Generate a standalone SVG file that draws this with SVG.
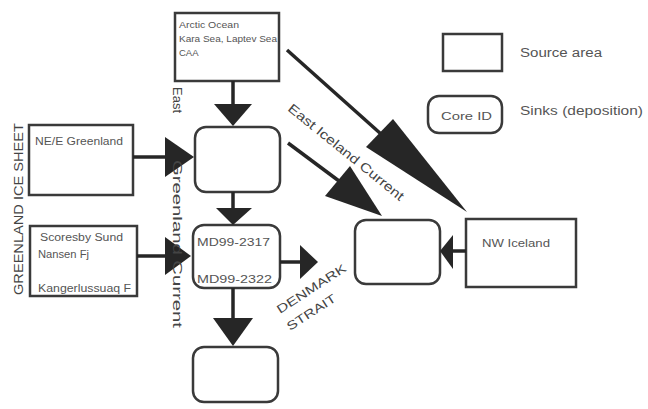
<svg xmlns="http://www.w3.org/2000/svg" width="648" height="409" viewBox="0 0 648 409">
<style>
.src{fill:#fff;stroke:#3a3a3a;stroke-width:2.5}
.snk{fill:#fff;stroke:#3a3a3a;stroke-width:2.5}
.t{font-family:"Liberation Sans",Arial,sans-serif;fill:#555}
.lbl{font-family:"Liberation Sans",Arial,sans-serif;fill:#444}
.ln{stroke:#262626;stroke-width:3.5;fill:none}
.hd{fill:#262626}
</style>
<rect width="648" height="409" fill="#fff"/>

<g id="arctic">
<rect class="src" x="175" y="13" width="104" height="68"/>
<text class="t" x="179" y="28" font-size="9.5" textLength="60" lengthAdjust="spacingAndGlyphs">Arctic Ocean</text>
<text class="t" x="179" y="42" font-size="9.5" textLength="98" lengthAdjust="spacingAndGlyphs">Kara Sea, Laptev Sea</text>
<text class="t" x="179" y="56" font-size="9.5">CAA</text>
</g>

<g id="ne-greenland">
<rect class="src" x="29" y="125" width="104" height="70"/>
<text class="t" x="35" y="145" font-size="10" textLength="88" lengthAdjust="spacingAndGlyphs">NE/E Greenland</text>
</g>

<g id="scoresby">
<rect class="src" x="30" y="226" width="107" height="70"/>
<text class="t" x="40" y="241" font-size="10" textLength="83" lengthAdjust="spacingAndGlyphs">Scoresby Sund</text>
<text class="t" x="38" y="258" font-size="10" textLength="51" lengthAdjust="spacingAndGlyphs">Nansen Fj</text>
<text class="t" x="38" y="292" font-size="10" textLength="93" lengthAdjust="spacingAndGlyphs">Kangerlussuaq F</text>
</g>

<g id="sink1">
<rect class="snk" x="195" y="127" width="85" height="65" rx="11"/>
</g>

<g id="sink2">
<rect class="snk" x="193" y="225" width="87" height="63" rx="11"/>
<text class="t" x="197" y="246" font-size="11" textLength="73" lengthAdjust="spacingAndGlyphs">MD99-2317</text>
<text class="t" x="197" y="283" font-size="11" textLength="75" lengthAdjust="spacingAndGlyphs">MD99-2322</text>
</g>

<g id="sink3">
<rect class="snk" x="193" y="347" width="85" height="55" rx="11"/>
</g>

<g id="sink4">
<rect class="snk" x="355" y="220" width="85" height="64" rx="11"/>
</g>

<g id="nw-iceland">
<rect class="src" x="466" y="219" width="110" height="68"/>
<text class="t" x="482" y="247" font-size="10" textLength="68" lengthAdjust="spacingAndGlyphs">NW Iceland</text>
</g>

<g id="legend-source">
<rect class="src" x="443" y="34" width="59" height="37"/>
<text class="t" x="520" y="57" font-size="12" textLength="82" lengthAdjust="spacingAndGlyphs">Source area</text>
</g>

<g id="legend-sink">
<rect class="snk" x="428" y="96" width="74" height="37" rx="11"/>
<text class="t" x="441" y="120" font-size="11.5" textLength="51" lengthAdjust="spacingAndGlyphs">Core ID</text>
<text class="t" x="520" y="115" font-size="12" textLength="123" lengthAdjust="spacingAndGlyphs">Sinks (deposition)</text>
</g>

<g id="connectors">
<line class="ln" x1="233" y1="81" x2="233" y2="106"/>
<polygon class="hd" points="214,104 252,104 233,126"/>
<line class="ln" x1="233" y1="192" x2="233" y2="210"/>
<polygon class="hd" points="216,208 252,208 233,225"/>
<line class="ln" x1="233" y1="288" x2="233" y2="320"/>
<polygon class="hd" points="213,318 253,318 233,346"/>
<line class="ln" x1="280" y1="262" x2="302" y2="262"/>
<polygon class="hd" points="300,245 300,279 318,262"/>
<line class="ln" x1="133" y1="157" x2="167" y2="157"/>
<polygon class="hd" points="165,137 165,177 194,157"/>
<line class="ln" x1="137" y1="256" x2="167" y2="256"/>
<polygon class="hd" points="165,237 165,275 191,256"/>
<line class="ln" x1="466" y1="251" x2="450" y2="251"/>
<polygon class="hd" points="453,235 453,269 440,251"/>
<line class="ln" x1="287" y1="50" x2="381" y2="134" stroke-width="3"/>
<polygon class="hd" points="393,119 366,147 467,212"/>
<line class="ln" x1="288" y1="143" x2="339" y2="181" stroke-width="3"/>
<polygon class="hd" points="350,166 325,196 382,216"/>
</g>

<g id="labels">
<text class="lbl" font-size="12" transform="translate(23,295) rotate(-90)" textLength="172" lengthAdjust="spacingAndGlyphs">GREENLAND ICE SHEET</text>
<text class="lbl" font-size="13" transform="translate(173,87) rotate(90)" textLength="26" lengthAdjust="spacingAndGlyphs">East</text>
<text class="lbl" font-size="13" transform="translate(173,160) rotate(90)" textLength="168" lengthAdjust="spacingAndGlyphs">Greenland Current</text>
<text class="lbl" font-size="13" transform="translate(287,110) rotate(39)" textLength="145" lengthAdjust="spacingAndGlyphs">East Iceland Current</text>
<text class="lbl" font-size="12" transform="translate(280,314) rotate(-33)" textLength="80" lengthAdjust="spacingAndGlyphs">DENMARK</text>
<text class="lbl" font-size="12" transform="translate(290,331) rotate(-33)" textLength="56" lengthAdjust="spacingAndGlyphs">STRAIT</text>
</g>
</svg>
